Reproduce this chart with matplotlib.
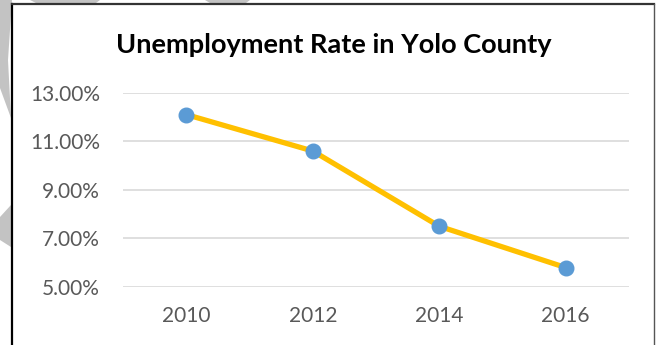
import matplotlib
matplotlib.use('Agg')
import matplotlib.pyplot as plt
from matplotlib.lines import Line2D
from matplotlib.patches import Polygon
from matplotlib.ticker import FuncFormatter

plt.rcParams['font.family'] = ['Lato', 'DejaVu Sans']

# data
years = ['2010', '2012', '2014', '2016']
rate = [12.1, 10.6, 7.5, 5.8]
y_ticks = [5, 7, 9, 11, 13]

W, H = 658, 345
fig = plt.figure(figsize=(W / 100, H / 100), dpi=100)
fig.patch.set_facecolor('white')

# faint grey shapes behind the chart frame (scan artefacts in the original)
grey = '#c3c3c3'
for pts in [
    [(0, 0), (12, 0), (8, 60), (11, 118), (0, 88)],
    [(0, 217), (11, 205), (11, 247), (0, 240)],
    [(30, 0), (100, 0), (96, 3), (36, 3)],
    [(205, 0), (250, 0), (246, 3), (210, 3)],
]:
    fig.patches.append(Polygon([(x / W, 1 - y / H) for x, y in pts],
                               closed=True, transform=fig.transFigure,
                               facecolor=grey, edgecolor='none', zorder=0))

# chart frame: left / top black, right grey, bottom cut off
fig.add_artist(Line2D([11.5 / W, 11.5 / W], [0, 1 - 3.5 / H], color='black', lw=1.6))
fig.add_artist(Line2D([11.5 / W, 653.5 / W], [1 - 3.5 / H, 1 - 3.5 / H], color='#333333', lw=1.6))
fig.add_artist(Line2D([653.5 / W, 653.5 / W], [0, 1 - 3.5 / H], color='#555555', lw=1.0))

ax = fig.add_axes([123 / W, 1 - 287 / H, (629 - 123) / W, (287 - 92.7) / H])
x = range(len(years))
ax.plot(x, rate, color='#FFC000', lw=3.8, solid_capstyle='round', zorder=3)
ax.plot(x, rate, 'o', color='#5B9BD5', ms=10.5, zorder=4)

ax.set_xlim(-0.5, len(years) - 0.5)
ax.set_ylim(5, 13)
ax.set_xticks(list(x))
ax.set_xticklabels(years)
ax.set_yticks(y_ticks)
ax.yaxis.set_major_formatter(FuncFormatter(lambda v, p: f'{v:.2f}%'))
ax.tick_params(length=0, labelsize=15, labelcolor='#595959')
ax.tick_params(axis='y', pad=16.5)
ax.tick_params(axis='x', pad=14)
ax.grid(axis='y', color='#d9d9d9', lw=1.2)
ax.set_axisbelow(True)
for s in ax.spines.values():
    s.set_visible(False)
ax.patch.set_alpha(0)

fig.text(333.5 / W, 1 - 45 / H, 'Unemployment Rate in Yolo County',
         ha='center', va='center', fontsize=19.5, fontweight='bold', color='black')

fig.savefig('out.png', dpi=100)
